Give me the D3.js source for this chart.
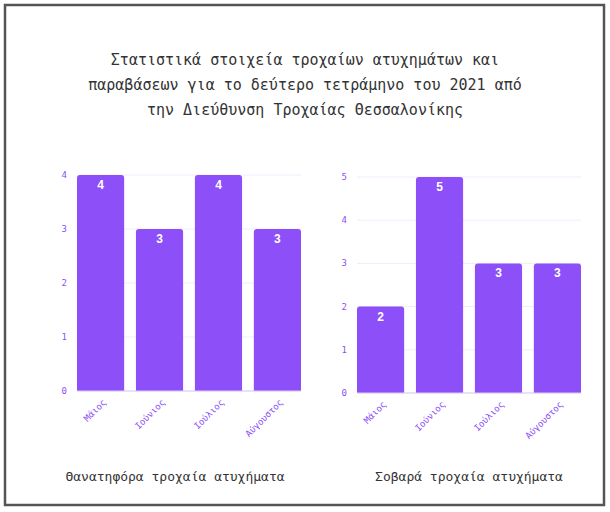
<!DOCTYPE html><html><head><meta charset="utf-8"><script src="https://cdn.jsdelivr.net/npm/d3@7"></script>
<style>body{margin:0;background:#fff}</style></head><body><svg id="c" width="610" height="512"></svg>
<script>
const months=["Μάιος","Ιούνιος","Ιούλιος","Αύγουστος"];
const fatal=[4,3,4,3];
const serious=[2,5,3,3];
const titleLines=["Στατιστικά στοιχεία τροχαίων ατυχημάτων και","παραβάσεων για το δεύτερο τετράμηνο του 2021 από","την Διεύθυνση Τροχαίας Θεσσαλονίκης"];
const subtitles=["Θανατηφόρα τροχαία ατυχήματα","Σοβαρά τροχαία ατυχήματα"];
const svg=d3.select("#c");
const mono="'DejaVu Sans Mono','Liberation Mono',monospace";
const purple="#8c4ff8";
svg.append("rect").attr("x",5).attr("y",5).attr("width",599).attr("height",500).attr("fill","#fff").attr("stroke","#555").attr("stroke-width",2.5);
svg.selectAll(".t").data(titleLines).join("text").attr("x",305).attr("y",(d,i)=>65+i*25).attr("text-anchor","middle")
 .attr("font-family",mono).attr("font-size",15).attr("fill","#333").text(d=>d);
function chart(vals,x0,x1,yTop,yBot,max,sub,cx){
 const g=svg.append("g");
 const x=d3.scaleBand().domain(months).range([x0,x1]).paddingInner(0.2).paddingOuter(0);
 const y=d3.scaleLinear().domain([0,max]).range([yBot,yTop]);
 const ticks=d3.range(0,max+1);
 g.selectAll(".gl").data(ticks).join("line").attr("x1",x0).attr("x2",x1).attr("y1",d=>y(d)).attr("y2",d=>y(d)).attr("stroke","#f0ecfb");
 g.selectAll(".yl").data(ticks).join("text").attr("x",x0-10).attr("y",d=>y(d)+3).attr("text-anchor","end")
  .attr("font-family",mono).attr("font-size",9).attr("fill",purple).text(d=>d);
 const r=3;
 g.selectAll(".b").data(vals).join("path").attr("fill",purple).attr("d",(d,i)=>{
  const bx=x(months[i]),w=x.bandwidth(),t=y(d),b=y(0);
  return `M${bx},${b}V${t+r}Q${bx},${t} ${bx+r},${t}H${bx+w-r}Q${bx+w},${t} ${bx+w},${t+r}V${b}Z`;});
 g.append("line").attr("x1",x0).attr("x2",x1).attr("y1",yBot).attr("y2",yBot).attr("stroke","#d9ccfb");
 g.selectAll(".v").data(vals).join("text").attr("x",(d,i)=>x(months[i])+x.bandwidth()/2).attr("y",d=>y(d)+14)
  .attr("text-anchor","middle").attr("font-family","'Liberation Sans',Arial,sans-serif").attr("font-weight","bold").attr("font-size",12).attr("fill","#fff").text(d=>d);
 g.selectAll(".xl").data(months).join("text").attr("text-anchor","end").attr("font-family",mono).attr("font-size",9).attr("fill",purple)
  .attr("transform",d=>`translate(${x(d)+x.bandwidth()/2+6},${yBot+12}) rotate(-45)`).text(d=>d);
 svg.append("text").attr("x",cx).attr("y",481).attr("text-anchor","middle").attr("font-family",mono).attr("font-size",13).attr("fill","#333").text(sub);
}
chart(fatal,77,301,175,391,4,subtitles[0],175);
chart(serious,357,581,177,393,5,subtitles[1],469);
</script></body></html>
